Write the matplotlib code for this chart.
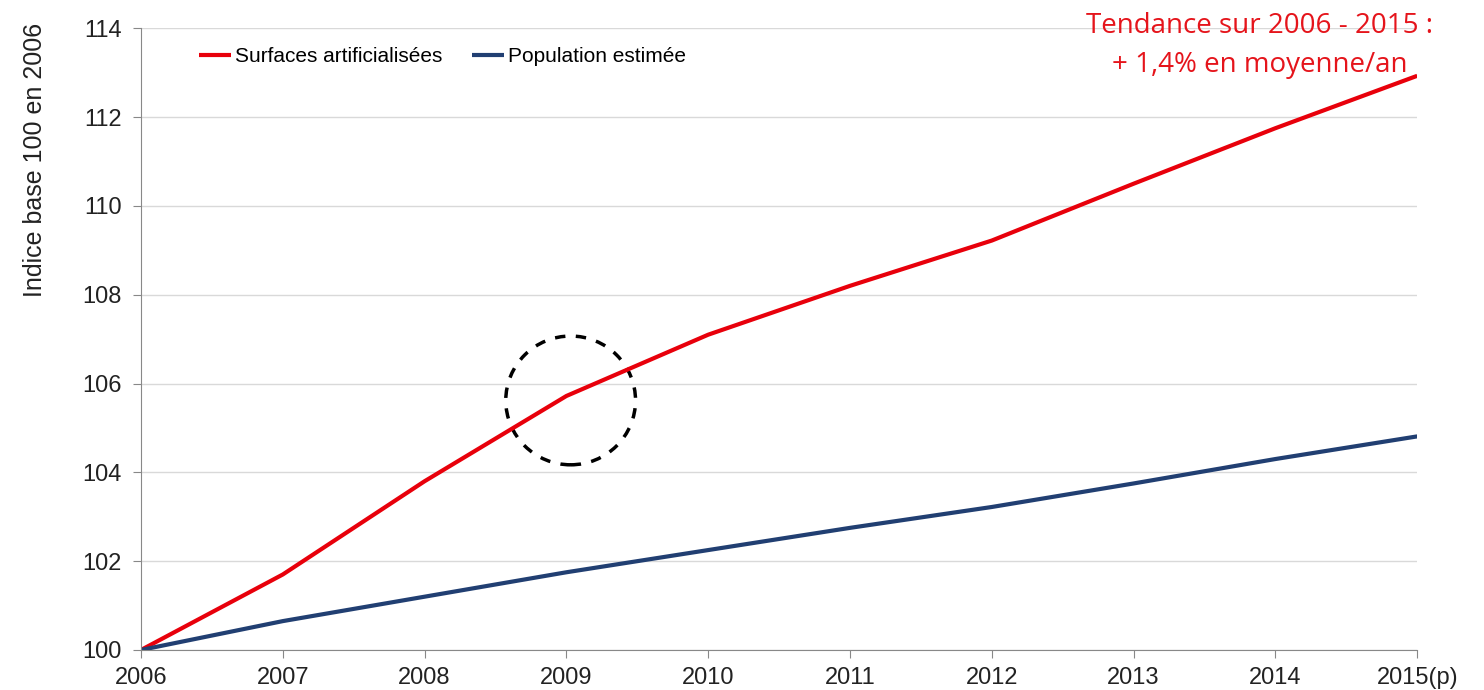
import matplotlib.pyplot as plt
from matplotlib.patches import Ellipse

years = [2006, 2007, 2008, 2009, 2010, 2011, 2012, 2013, 2014, 2015]
year_labels = ["2006", "2007", "2008", "2009", "2010", "2011", "2012", "2013", "2014", "2015(p)"]
surfaces = [100.0, 101.7, 103.8, 105.72, 107.1, 108.2, 109.22, 110.5, 111.75, 112.93]
population = [100.0, 100.65, 101.2, 101.75, 102.25, 102.75, 103.22, 103.75, 104.3, 104.81]

plt.rcParams["font.family"] = ["Liberation Sans", "DejaVu Sans"]

fig = plt.figure(figsize=(14.84, 6.9), dpi=100)
ax = fig.add_axes([0.095, 0.058, 0.86, 0.901])

ax.plot(years, surfaces, color="#e8000b", lw=3, label="Surfaces artificialisées", solid_capstyle="butt")
ax.plot(years, population, color="#213f72", lw=3, label="Population estimée", solid_capstyle="butt")

ax.set_xlim(2006, 2015)
ax.set_ylim(100, 114)
ax.set_yticks(range(100, 115, 2))
ax.set_xticks(years)
ax.set_xticklabels(year_labels)
ax.tick_params(labelsize=17, colors="#222222", length=6, color="#888888")
ax.tick_params(axis="y", pad=8)
ax.tick_params(axis="x", pad=6)
ax.grid(axis="y", color="#d9d9d9", lw=1)
ax.set_axisbelow(True)
for s in ["top", "right"]:
    ax.spines[s].set_visible(False)
for s in ["left", "bottom"]:
    ax.spines[s].set_color("#888888")

# y label sits at the top, not centred
fig.text(35 / 1484, 1 - 23 / 690, "Indice base 100 en 2006", rotation=90, fontsize=18,
         color="#222222", ha="center", va="top")

# dashed circle around 2009 break
ax.add_patch(Ellipse((2009.03, 105.62), 0.915, 2.9, fill=False, ls=(0, (3, 3)), lw=2.5, color="black"))

ax.legend(loc="upper left", bbox_to_anchor=(0.031, 1.0), ncol=2, frameon=False, fontsize=15,
          handlelength=1.5, handletextpad=0.2, columnspacing=1.45)

red_font = dict(color="#e5141b", fontsize=20, family=["Open Sans", "DejaVu Sans"], ha="center", va="baseline")
fig.text(1260 / 1484, 1 - 33 / 690, "Tendance sur 2006 - 2015 :", **red_font)
fig.text(1260 / 1484, 1 - 72 / 690, "+ 1,4% en moyenne/an", **red_font)

fig.savefig("out.png", dpi=100, facecolor="white")
